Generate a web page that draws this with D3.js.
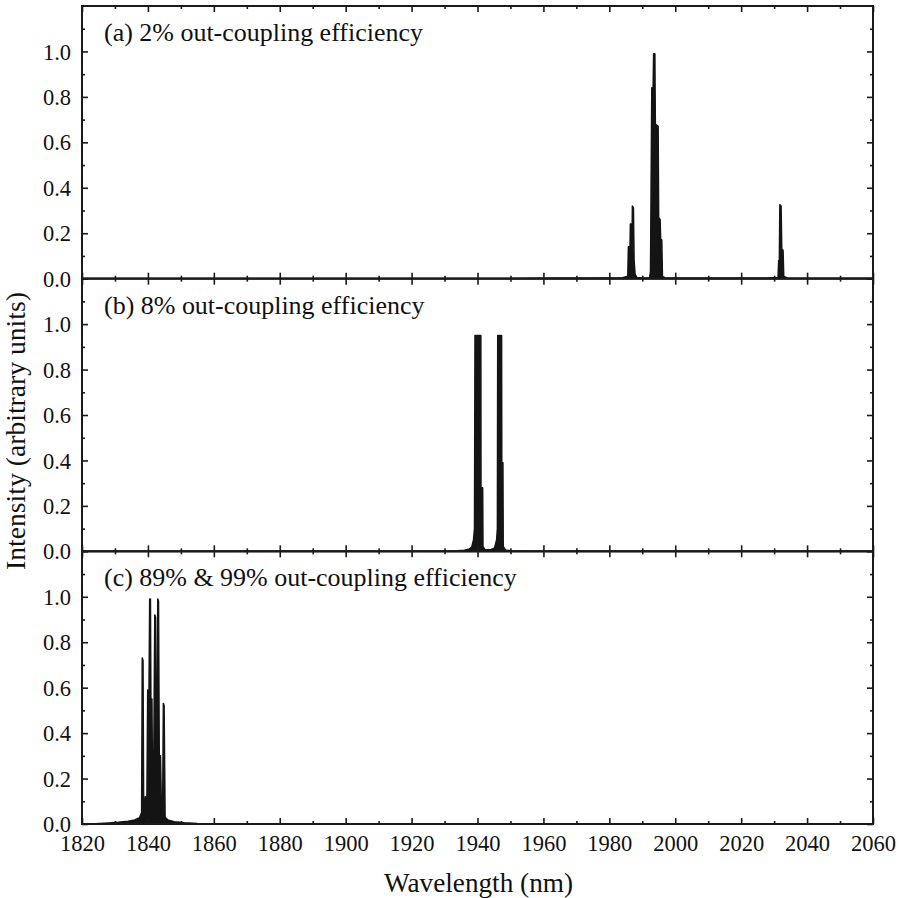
<!DOCTYPE html>
<html>
<head>
<meta charset="utf-8">
<script src="https://cdn.jsdelivr.net/npm/d3@7"></script>
<style>
  html, body { margin: 0; padding: 0; background: #fff; }
  svg { display: block; }
</style>
</head>
<body>
<svg id="chart" width="901" height="898"></svg>
<script>
// ---------- data ----------
const wavelengthTicks = [1820, 1840, 1860, 1880, 1900, 1920, 1940, 1960, 1980, 2000, 2020, 2040, 2060];
const wavelengthMinorTicks = [1830, 1850, 1870, 1890, 1910, 1930, 1950, 1970, 1990, 2010, 2030, 2050];
const intensityTicks = [0.0, 0.2, 0.4, 0.6, 0.8, 1.0];
const intensityMinorTicks = [0.1, 0.3, 0.5, 0.7, 0.9, 1.1];
const panelLabels = [
  "(a) 2% out-coupling efficiency",
  "(b) 8% out-coupling efficiency",
  "(c) 89% & 99% out-coupling efficiency"
];
const xAxisLabel = "Wavelength (nm)";
const yAxisLabel = "Intensity (arbitrary units)";

// [wavelength (nm), intensity]
const spectrumA = [
  [1820, 0], [1945, 0], [1955, 0.002], [1965, 0.003], [1975, 0.003], [1984, 0.004],
  [1985.6, 0.01], [1985.8, 0.14], [1986.0, 0.14], [1986.2, 0.06], [1986.4, 0.24], [1986.7, 0.24],
  [1986.9, 0.1], [1987.0, 0.32], [1987.3, 0.31], [1987.5, 0.08], [1987.8, 0.02], [1988.3, 0.005],
  [1990, 0.003], [1992.2, 0.004], [1992.5, 0.03], [1992.9, 0.84], [1993.3, 0.84], [1993.45, 0.99],
  [1993.8, 0.99], [1993.95, 0.68], [1994.8, 0.67], [1994.95, 0.27], [1995.4, 0.26], [1995.55, 0.175],
  [1995.9, 0.17], [1996.1, 0.01], [1997, 0.003], [2005, 0.003], [2015, 0.003], [2028, 0.003],
  [2031.2, 0.005], [2031.4, 0.08], [2031.6, 0.08], [2031.75, 0.325], [2032.1, 0.32], [2032.3, 0.13],
  [2032.7, 0.125], [2032.9, 0.01], [2034, 0.003], [2045, 0.002], [2060, 0.002]
];
const spectrumB = [
  [1820, 0], [1930, 0], [1934, 0.002], [1936, 0.005], [1937.5, 0.01], [1938.3, 0.02],
  [1938.8, 0.05], [1939.1, 0.1], [1939.25, 0.95], [1941.0, 0.95], [1941.05, 0.28], [1941.55, 0.28],
  [1941.65, 0.02], [1942.2, 0.008], [1944, 0.007], [1945.2, 0.015], [1945.8, 0.05], [1946.05, 0.1],
  [1946.15, 0.95], [1947.3, 0.95], [1947.35, 0.39], [1947.7, 0.39], [1947.8, 0.02], [1948.5, 0.006],
  [1950, 0.002], [1955, 0], [2060, 0]
];
const spectrumC = [
  [1820, 0], [1824, 0.001], [1828, 0.004], [1831, 0.007], [1834, 0.012], [1836, 0.018],
  [1837.5, 0.028], [1838.1, 0.05], [1838.3, 0.73], [1838.5, 0.72], [1838.7, 0.04], [1839.0, 0.05],
  [1839.2, 0.12], [1839.4, 0.04], [1839.7, 0.1], [1839.95, 0.59], [1840.2, 0.3], [1840.55, 0.99],
  [1840.75, 0.99], [1841.0, 0.2], [1841.2, 0.55], [1841.4, 0.15], [1841.7, 0.1], [1842.1, 0.92],
  [1842.3, 0.91], [1842.55, 0.17], [1842.8, 0.45], [1843.0, 0.99], [1843.2, 0.98], [1843.5, 0.1],
  [1843.8, 0.3], [1844.1, 0.06], [1844.5, 0.1], [1844.7, 0.53], [1844.9, 0.52], [1845.2, 0.03],
  [1846, 0.018], [1848, 0.01], [1851, 0.005], [1855, 0.002], [1860, 0], [2060, 0]
];
const spectra = [spectrumA, spectrumB, spectrumC];

// ---------- layout ----------
const svg = d3.select("#chart");
const plotLeft = 82, plotRight = 873, plotTop = 6, plotBottom = 824;
const panelH = (plotBottom - plotTop) / 3;
const FONT = "'Liberation Serif'";

function fitSize(str, targetWidth) {
  const t = svg.append("text").attr("font-family", FONT).attr("font-size", 100).text(str);
  const w = t.node().getComputedTextLength();
  t.remove();
  return 100 * targetWidth / w;
}
const tickSize = fitSize("1820", 45);
const labelSize = fitSize(panelLabels[0], 319);
const xTitleSize = fitSize(xAxisLabel, 189);
const yTitleSize = fitSize(yAxisLabel, 278);

const x = d3.scaleLinear().domain([1820, 2060]).range([plotLeft, plotRight]);

spectra.forEach((data, i) => {
  const y0 = plotTop + i * panelH;
  const y1 = y0 + panelH;
  const y = d3.scaleLinear().domain([0, 1.2]).range([y1, y0]);
  const g = svg.append("g");

  const clipId = "clip" + i;
  svg.append("clipPath").attr("id", clipId)
    .append("rect").attr("x", plotLeft).attr("y", y0).attr("width", plotRight - plotLeft).attr("height", panelH);

  const area = d3.area().x(d => x(d[0])).y0(y(0)).y1(d => y(d[1]));
  const line = d3.line().x(d => x(d[0])).y(d => y(d[1]));
  g.append("path").datum(data).attr("clip-path", `url(#${clipId})`)
    .attr("d", area).attr("fill", "#141414");
  g.append("path").datum(data).attr("clip-path", `url(#${clipId})`)
    .attr("d", line).attr("fill", "none").attr("stroke", "#141414")
    .attr("stroke-width", 1.6).attr("stroke-linejoin", "round");

  const isLast = i === 2;
  const xb = g.append("g").attr("transform", `translate(0,${y1})`)
    .call(d3.axisBottom(x).tickValues(wavelengthTicks).tickSizeInner(-6).tickSizeOuter(0)
      .tickPadding(11).tickFormat(isLast ? d3.format("d") : () => ""));
  const xbm = g.append("g").attr("transform", `translate(0,${y1})`)
    .call(d3.axisBottom(x).tickValues(wavelengthMinorTicks).tickSizeInner(-3).tickSizeOuter(0).tickFormat(() => ""));
  const xt = g.append("g").attr("transform", `translate(0,${y0})`)
    .call(d3.axisTop(x).tickValues(wavelengthTicks).tickSizeInner(-6).tickSizeOuter(0).tickFormat(() => ""));
  const xtm = g.append("g").attr("transform", `translate(0,${y0})`)
    .call(d3.axisTop(x).tickValues(wavelengthMinorTicks).tickSizeInner(-3).tickSizeOuter(0).tickFormat(() => ""));
  const yl = g.append("g").attr("transform", `translate(${plotLeft},0)`)
    .call(d3.axisLeft(y).tickValues(intensityTicks).tickSizeInner(-6).tickSizeOuter(0)
      .tickPadding(11).tickFormat(d3.format(".1f")));
  const ylm = g.append("g").attr("transform", `translate(${plotLeft},0)`)
    .call(d3.axisLeft(y).tickValues(intensityMinorTicks).tickSizeInner(-3).tickSizeOuter(0).tickFormat(() => ""));
  const yr = g.append("g").attr("transform", `translate(${plotRight},0)`)
    .call(d3.axisRight(y).tickValues(intensityTicks).tickSizeInner(-6).tickSizeOuter(0).tickFormat(() => ""));
  const yrm = g.append("g").attr("transform", `translate(${plotRight},0)`)
    .call(d3.axisRight(y).tickValues(intensityMinorTicks).tickSizeInner(-3).tickSizeOuter(0).tickFormat(() => ""));

  [xb, xbm, xt, xtm, yl, ylm, yr, yrm].forEach(a => {
    a.attr("font-family", FONT);
    a.select(".domain").remove();
    a.selectAll(".tick line").attr("stroke", "#1a1a1a").attr("stroke-width", 1.6);
    a.selectAll(".tick text").attr("font-family", FONT)
      .attr("font-size", tickSize).attr("fill", "#111");
  });
  yl.selectAll(".tick text").attr("dy", "0.34em");

  g.append("rect").attr("x", plotLeft).attr("y", y0).attr("width", plotRight - plotLeft).attr("height", panelH)
    .attr("fill", "none").attr("stroke", "#1a1a1a").attr("stroke-width", 2);

  g.append("text").attr("x", 104).attr("y", y0 + 35).attr("fill", "#111")
    .attr("font-family", FONT).attr("font-size", labelSize).text(panelLabels[i]);
});

svg.append("text").attr("x", (plotLeft + plotRight) / 2 + 1).attr("y", 892).attr("fill", "#111")
  .attr("font-family", FONT).attr("text-anchor", "middle").attr("font-size", xTitleSize).text(xAxisLabel);
svg.append("text").attr("fill", "#111")
  .attr("transform", `translate(25,${(plotTop + plotBottom) / 2 + 16}) rotate(-90)`)
  .attr("font-family", FONT).attr("text-anchor", "middle").attr("font-size", yTitleSize).text(yAxisLabel);
</script>
</body>
</html>
